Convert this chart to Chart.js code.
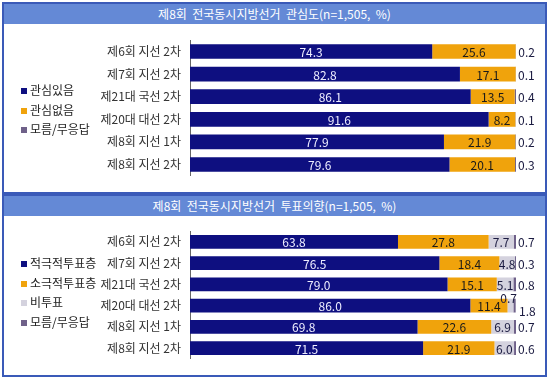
<!DOCTYPE html>
<html><head><meta charset="utf-8">
<script src="https://cdn.jsdelivr.net/npm/chart.js@4/dist/chart.umd.min.js"></script>
<style>
html,body{margin:0;padding:0;background:#fff;width:550px;height:382px;overflow:hidden;font-family:"Noto Sans CJK KR","Noto Sans",sans-serif;}
.panel{position:absolute;left:2px;width:545px;box-sizing:border-box;border:2px solid #3a5ab8;}
.title{position:absolute;left:0;right:0;top:0;background:#6489d6;color:#fff;font-size:12px;text-align:center;white-space:pre;}
canvas{position:absolute;left:0;}
.legend{position:absolute;left:21px;font-size:12px;color:#222;}
.legend div{height:19.5px;line-height:19.5px;white-space:nowrap;}
.legend span{display:inline-block;width:6px;height:6px;margin-right:3px;vertical-align:1px;}
</style></head>
<body>
<div class="panel" style="top:2px;height:192px"><div class="title" id="t1" style="height:20px;line-height:20px"></div></div>
<div class="panel" style="top:194px;height:183px"><div class="title" id="t2" style="height:20px;line-height:20px"></div></div>
<canvas id="c1" width="550" height="168" style="top:24px"></canvas>
<canvas id="c2" width="550" height="160" style="top:215px"></canvas>
<div class="legend" id="lg1" style="top:80px"></div>
<div class="legend" id="lg2" style="top:253px"></div>
<script>
// ---- data ----
const title1 = '제8회  전국동시지방선거  관심도(n=1,505,  %)';
const title2 = '제8회  전국동시지방선거  투표의향(n=1,505,  %)';
const categories = ['제6회 지선 2차','제7회 지선 2차','제21대 국선 2차','제20대 대선 2차','제8회 지선 1차','제8회 지선 2차'];
const seriesNames1 = ['관심있음','관심없음','모름/무응답'];
const interested = [74.3, 82.8, 86.1, 91.6, 77.9, 79.6];
const notInterested = [25.6, 17.1, 13.5, 8.2, 21.9, 20.1];
const dontKnow1 = [0.2, 0.1, 0.4, 0.1, 0.2, 0.3];
const seriesNames2 = ['적극적투표층','소극적투표층','비투표','모름/무응답'];
const activeVoters = [63.8, 76.5, 79.0, 86.0, 69.8, 71.5];
const passiveVoters = [27.8, 18.4, 15.1, 11.4, 22.6, 21.9];
const nonVoters = [7.7, 4.8, 5.1, 1.8, 6.9, 6.0];
const dontKnow2 = [0.7, 0.3, 0.8, 0.7, 0.7, 0.6];

// ---- styles ----
const NAVY = '#0e0f80', ORANGE = '#f0a30c', LGREY = '#d4d2de', PURPLE = '#6f6189';
const FONT = '"Noto Sans CJK KR","Noto Sans",sans-serif';

document.getElementById('t1').textContent = title1;
document.getElementById('t2').textContent = title2;

function legend(id, names, colors){
  const el = document.getElementById(id);
  names.forEach((n,i)=>{
    const d = document.createElement('div');
    const s = document.createElement('span'); s.style.background = colors[i];
    d.appendChild(s); d.appendChild(document.createTextNode(n));
    el.appendChild(d);
  });
}

const labelPlugin = {
  id:'valLabels',
  afterDatasetsDraw(chart){
    const ctx = chart.ctx;
    ctx.save();
    ctx.font = '12px ' + FONT;
    ctx.textBaseline = 'middle';
    const dsets = chart.data.datasets;
    const n = dsets.length;
    dsets.forEach((ds, di)=>{
      const meta = chart.getDatasetMeta(di);
      meta.data.forEach((bar, i)=>{
        const p = bar.getProps(['x','y','base'], true);
        const v = ds.data[i];
        const txt = v.toFixed(1);
        ctx.fillStyle = ds.labelColor;
        const prevSmall = n === 4 && dsets[2].data[i] < 3;
        if (di === n-1) {
          // last series: outside to the right
          if (prevSmall) { ctx.textAlign = 'right'; ctx.fillText(txt, chart.chartArea.right + 1, p.y - 7); }
          else { ctx.textAlign = 'left'; ctx.fillText(txt, Math.max(p.x, chart.chartArea.right) + 2, p.y + 1); }
        } else if (n === 4 && di === 2 && v < 3) {
          ctx.textAlign = 'left'; ctx.fillText(txt, chart.chartArea.right + 3, p.y + 6);
        } else {
          ctx.textAlign = 'center';
          ctx.fillText(txt, (p.x + p.base)/2, p.y + 1);
        }
      });
    });
    ctx.restore();
  }
};

function makeChart(id, names, series, colors, labelColors, pad){
  return new Chart(document.getElementById(id), {
    type:'bar',
    data:{
      labels: categories,
      datasets: series.map((d,i)=>({label:names[i], data:d, backgroundColor:colors[i], borderWidth:0, labelColor:labelColors[i], barPercentage:0.65, categoryPercentage:1}))
    },
    options:{
      indexAxis:'y', responsive:false, animation:false, devicePixelRatio:1,
      layout:{padding:{left:0, right:34, top:pad[0], bottom:pad[1]}},
      plugins:{legend:{display:false}, tooltip:{enabled:false}},
      scales:{
        x:{stacked:true, min:0, max:100, display:false},
        y:{stacked:true, grid:{display:false, drawTicks:false}, border:{display:true, color:'#666', width:1},
           ticks:{color:'#333', font:{family:FONT, size:12}, padding:9},
           afterFit(s){ s.width = 190; }}
      }
    },
    plugins:[labelPlugin]
  });
}

const colors1 = [NAVY, ORANGE, PURPLE];
const colors2 = [NAVY, ORANGE, LGREY, PURPLE];
legend('lg1', seriesNames1, colors1);
legend('lg2', seriesNames2, colors2);
makeChart('c1', seriesNames1, [interested, notInterested, dontKnow1], colors1, ['#eef','#1a1a1a','#1a1a40'], [15,4]);
makeChart('c2', seriesNames2, [activeVoters, passiveVoters, nonVoters, dontKnow2], colors2, ['#eef','#1a1a1a','#1a1a40','#1a1a40'], [8,3]);
</script>
</body></html>
